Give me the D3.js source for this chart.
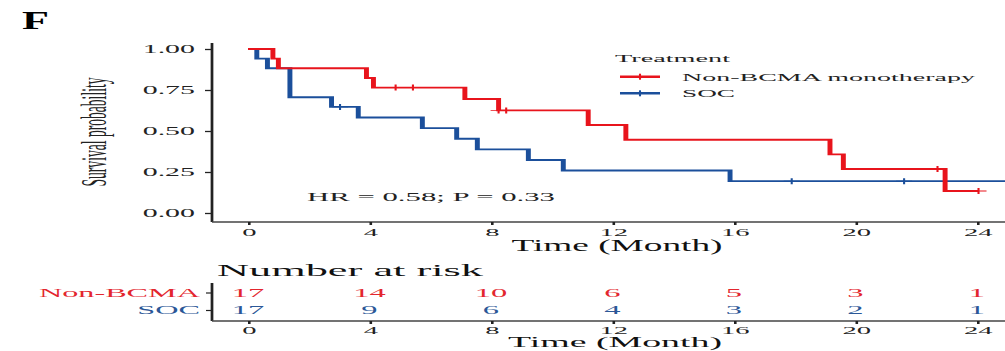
<!DOCTYPE html>
<html><head><meta charset="utf-8">
<script src="https://cdn.jsdelivr.net/npm/d3@7"></script>
<style>html,body{margin:0;padding:0;background:#fff;}svg{display:block;}</style>
</head><body>
<svg id="chart" width="1005" height="351"></svg>
<script>
// ---------------- data ----------------
const monthTicks = [0, 4, 8, 12, 16, 20, 24];
const probTicks = [0, 0.25, 0.5, 0.75, 1];
const seriesNames = ["Non-BCMA monotherapy", "SOC"];
const riskLabels = ["Non-BCMA", "SOC"];
const nonBcmaEvents = [0.82, 1.0, 3.9, 4.13, 7.14, 8.25, 11.2, 12.44, 19.16, 19.6, 22.95];
const nonBcmaCensored = [4.86, 5.43, 8.25, 8.5, 22.7, 24.05];
const socEvents = [0.29, 0.64, 1.38, 1.38, 1.38, 2.75, 3.63, 5.74, 6.87, 7.55, 9.23, 10.38, 15.87];
const socCensored = [3.03, 17.9, 21.6, 25.6];
const riskNonBcma = [17, 14, 10, 6, 5, 3, 1];
const riskSoc = [17, 9, 6, 4, 3, 2, 1];
const annotation = "HR = 0.58; P = 0.33";

// ---------------- layout ----------------
const SX = 2.6;              // horizontal stretch of the original figure
const X = px => px / SX;     // screen px -> stretched-group units
const red = "#e8141c", blue = "#1b4f9b";
const redTxt = "#e3262e", blueTxt = "#2b5797";
const FONT = "'Liberation Serif','Times New Roman',serif";

const svg = d3.select("#chart");
const g = svg.append("g").attr("transform", `scale(${SX},1)`).style("font-family", FONT);

const x = d3.scaleLinear().domain([0, 24]).range([X(248), X(977)]);
const y = d3.scaleLinear().domain([0, 1]).range([213, 49]);

function styleText(sel, size, fill) {
  sel.attr("font-size", size).attr("fill", fill).attr("font-family", FONT).style("font-family", FONT);
}

// panel label
g.append("text").attr("x", X(22)).attr("y", 29).attr("font-size", 25).attr("font-weight", "bold")
  .attr("textLength", X(27)).attr("lengthAdjust", "spacingAndGlyphs").text("F");

// y axis
const yAx = g.append("g").attr("transform", `translate(${X(212)},0)`)
  .call(d3.axisLeft(y).tickValues(probTicks).tickFormat(d3.format(".2f")).tickSize(X(7)).tickPadding(X(10)));
yAx.attr("font-family", null);
yAx.select(".domain").attr("d", `M0,43V222`).attr("stroke", "#222").attr("stroke-width", 1.05);
yAx.selectAll(".tick line").attr("stroke", "#222").attr("stroke-width", 1.3);
styleText(yAx.selectAll(".tick text"), 11.5, "#222");

// x axis
const xAx = g.append("g").attr("transform", `translate(0,222)`)
  .call(d3.axisBottom(x).tickValues(monthTicks).tickSize(3).tickPadding(3));
xAx.attr("font-family", null);
xAx.select(".domain").attr("d", `M${X(212)},0H${X(1005)}`).attr("stroke", "#444").attr("stroke-width", 1.4);
xAx.selectAll(".tick line").attr("stroke", "#222").attr("stroke-width", 1);
styleText(xAx.selectAll(".tick text"), 11, "#222");

g.append("text").attr("x", X(617)).attr("y", 251).attr("text-anchor", "middle").attr("font-size", 16)
  .attr("fill", "#111").attr("textLength", X(211)).attr("lengthAdjust", "spacingAndGlyphs").text("Time (Month)");

// y title (rotated; glyph height gets stretched)
svg.append("text").attr("transform", `translate(106,132) scale(${SX},1) rotate(-90)`)
  .attr("text-anchor", "middle").attr("font-size", 13.8).attr("font-family", FONT).attr("fill", "#222")
  .attr("textLength", 109).attr("lengthAdjust", "spacingAndGlyphs")
  .text("Survival probability");

// KM curves
function km(events, censored) {
  const all = events.map(t => ({ t, e: 1 })).concat(censored.map(t => ({ t, e: 0 })));
  const times = Array.from(new Set(all.map(d => d.t))).sort((a, b) => a - b);
  let n = all.length, s = 1;
  const pts = [[0, 1]], marks = [];
  times.forEach(t => {
    const d = all.filter(a => a.t === t && a.e === 1).length;
    const c = all.filter(a => a.t === t && a.e === 0).length;
    if (d > 0) { pts.push([t, s]); s *= (n - d) / n; pts.push([t, s]); }
    if (c > 0) marks.push([t, s]);
    n -= d + c;
  });
  pts.push([times[times.length - 1], s]);
  return { pts, marks };
}
const line = d3.line().x(d => x(d[0])).y(d => y(d[1]));
[[socEvents, socCensored, blue], [nonBcmaEvents, nonBcmaCensored, red]].forEach(([ev, ce, col]) => {
  const r = km(ev, ce);
  g.append("path").attr("d", line(r.pts)).attr("fill", "none").attr("stroke", col)
    .attr("stroke-width", 1.9).attr("stroke-linejoin", "miter");
  g.selectAll(null).data(r.marks).enter().append("path")
    .attr("d", d => `M${x(d[0]) - X(8)},${y(d[1])}H${x(d[0]) + X(8)}M${x(d[0])},${y(d[1]) - 3}V${y(d[1]) + 3}`)
    .attr("stroke", col).attr("stroke-width", 0.8).attr("fill", "none");
});

// annotation
g.append("text").attr("x", X(307)).attr("y", 201.5).attr("font-size", 12).attr("fill", "#222")
  .attr("textLength", X(248)).attr("lengthAdjust", "spacingAndGlyphs").text(annotation);

// legend
g.append("text").attr("x", X(615)).attr("y", 62).attr("font-size", 11.3).attr("fill", "#222")
  .attr("textLength", X(115)).attr("lengthAdjust", "spacingAndGlyphs").text("Treatment");
[[red, 76.7, 80.8, 293], [blue, 93.3, 97, 53]].forEach(([col, ly, ty, tw], i) => {
  g.append("line").attr("x1", X(620)).attr("x2", X(660)).attr("y1", ly).attr("y2", ly)
    .attr("stroke", col).attr("stroke-width", 2.4);
  g.append("line").attr("x1", X(640)).attr("x2", X(640)).attr("y1", ly - 3).attr("y2", ly + 3)
    .attr("stroke", col).attr("stroke-width", 0.8);
  g.append("text").attr("x", X(682)).attr("y", ty).attr("font-size", 11).attr("fill", "#222")
    .attr("textLength", X(tw)).attr("lengthAdjust", "spacingAndGlyphs").text(seriesNames[i]);
});

// ---------------- risk table ----------------
g.append("text").attr("x", X(217)).attr("y", 276).attr("font-size", 16.5).attr("fill", "#111")
  .attr("textLength", X(266)).attr("lengthAdjust", "spacingAndGlyphs").text("Number at risk");

const rowY = d3.scalePoint().domain(riskLabels).range([292.5, 310]);
const tAx = g.append("g").attr("transform", `translate(${X(212)},0)`)
  .call(d3.axisLeft(rowY).tickSize(X(6)).tickPadding(X(6)));
tAx.attr("font-family", null);
tAx.select(".domain").attr("d", "M0,283V321").attr("stroke", "#222").attr("stroke-width", 1.05);
tAx.selectAll(".tick line").attr("stroke", "#222").attr("stroke-width", 1.2);
tAx.selectAll(".tick text").each(function (d, i) {
  styleText(d3.select(this), 12.4, i === 0 ? redTxt : blueTxt);
});

[[riskNonBcma, redTxt, riskLabels[0]], [riskSoc, blueTxt, riskLabels[1]]].forEach(([vals, col, key]) => {
  g.selectAll(null).data(vals).enter().append("text")
    .attr("x", (d, i) => x(monthTicks[i])).attr("y", rowY(key)).attr("dy", "0.34em")
    .attr("text-anchor", "middle").attr("font-size", 12.5).attr("fill", col).text(d => d);
});

const bAx = g.append("g").attr("transform", `translate(0,321)`)
  .call(d3.axisBottom(x).tickValues(monthTicks).tickSize(3).tickPadding(2));
bAx.attr("font-family", null);
bAx.select(".domain").attr("d", `M${X(212)},0H${X(1005)}`).attr("stroke", "#444").attr("stroke-width", 1.4);
bAx.selectAll(".tick line").attr("stroke", "#222").attr("stroke-width", 1);
styleText(bAx.selectAll(".tick text"), 11, "#222");

g.append("text").attr("x", X(615)).attr("y", 347.5).attr("text-anchor", "middle").attr("font-size", 14.5)
  .attr("fill", "#111").attr("textLength", X(214)).attr("lengthAdjust", "spacingAndGlyphs").text("Time (Month)");
</script>
</body></html>
